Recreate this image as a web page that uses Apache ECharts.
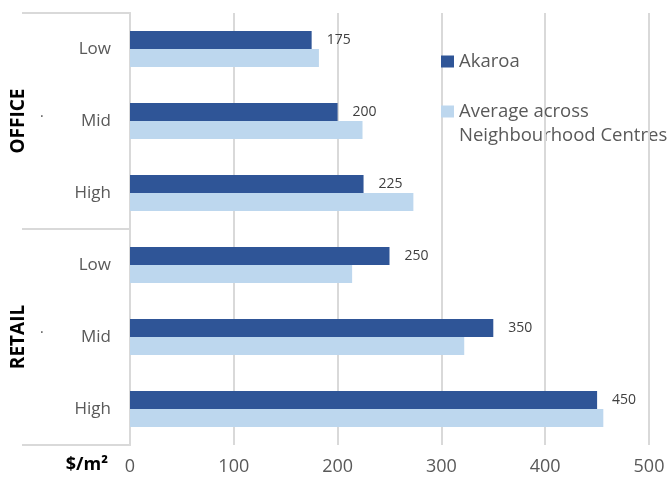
<!DOCTYPE html>
<html>
<head>
<meta charset="utf-8">
<script src="https://cdn.jsdelivr.net/npm/echarts@6/dist/echarts.min.js"></script>
<style>
html,body{margin:0;padding:0;background:#fff;}
#c{width:669px;height:495px;}
</style>
</head>
<body>
<div id="c"></div>
<script>
const groups = ['OFFICE', 'RETAIL'];
const levels = ['Low', 'Mid', 'High'];
const seriesNames = ['Akaroa', 'Average across Neighbourhood Centres'];
const akaroa = [175, 200, 225, 250, 350, 450];
const average = [182, 224, 273, 214, 322, 456];
const xTicks = [0, 100, 200, 300, 400, 500];
const axisUnit = '$/m²';

const categories = [];
groups.forEach(g => levels.forEach(l => categories.push(g + ' ' + l)));

const FONT = '"Open Sans"';
const GREY = '#595959';
const LINE = '#d9d9d9';

const chart = echarts.init(document.getElementById('c'));
chart.setOption({
  animation: false,
  textStyle: { fontFamily: FONT },
  grid: { left: 130, right: 20, top: 13, bottom: 50, containLabel: false },
  legend: [
    {
      data: [seriesNames[0]], orient: 'vertical', left: 436, top: 47,
      itemWidth: 13, itemHeight: 12, itemGap: 10,
      textStyle: { fontFamily: FONT, fontSize: 18.5, color: GREY },
      icon: 'rect'
    },
    {
      data: [seriesNames[1]], orient: 'vertical', left: 436, top: 97,
      itemWidth: 13, itemHeight: 12,
      textStyle: { fontFamily: FONT, fontSize: 18.5, color: GREY },
      icon: 'rect',
      formatter: () => 'Average across'
    }
  ],
  graphic: [
    { type: 'text', left: 459, top: 126,
      style: { text: 'Neighbourhood Centres', font: '18.5px ' + FONT, fill: GREY } },
    { type: 'text', left: 40, top: 110, style: { text: '·', font: '14px ' + FONT, fill: GREY } },
    { type: 'text', left: 40, top: 326, style: { text: '·', font: '14px ' + FONT, fill: GREY } }
  ],
  xAxis: {
    type: 'value', min: xTicks[0], max: xTicks[xTicks.length - 1], interval: 100,
    axisLine: { show: false }, axisTick: { show: false },
    splitLine: { lineStyle: { color: LINE, width: 2 } },
    axisLabel: { color: GREY, fontSize: 18, margin: 13, fontFamily: FONT },
    name: axisUnit, nameLocation: 'start', nameGap: 22,
    nameTextStyle: { fontFamily: FONT, fontSize: 18, fontWeight: 'bold', color: '#000',
      verticalAlign: 'top', padding: [11, 0, 0, 0] }
  },
  yAxis: [
    {
      type: 'category', data: categories, inverse: true,
      axisLine: { lineStyle: { color: LINE, width: 2 } },
      axisTick: { show: false },
      axisLabel: { color: GREY, fontSize: 17, margin: 19, fontFamily: FONT,
        formatter: v => v.split(' ')[1] }
    },
    {
      type: 'category', data: groups, inverse: true, position: 'left', offset: 0,
      axisLine: { lineStyle: { color: LINE, width: 2 } },
      axisTick: { show: true, length: 108, interval: 0, lineStyle: { color: LINE, width: 2 } },
      axisLabel: { rotate: 90, color: '#000', fontSize: 19, fontWeight: 'bold', margin: 102, fontFamily: FONT }
    }
  ],
  series: [
    {
      name: seriesNames[0], type: 'bar', data: akaroa, yAxisIndex: 0,
      barWidth: 18, barGap: '0%',
      itemStyle: { color: '#2F5597' },
      label: { show: true, position: 'right', distance: 15, color: '#404040', fontSize: 14, fontFamily: FONT }
    },
    {
      name: seriesNames[1], type: 'bar', data: average, yAxisIndex: 0,
      barWidth: 18, barGap: '0%',
      itemStyle: { color: '#BDD7EE' }
    }
  ]
});
</script>
</body>
</html>
